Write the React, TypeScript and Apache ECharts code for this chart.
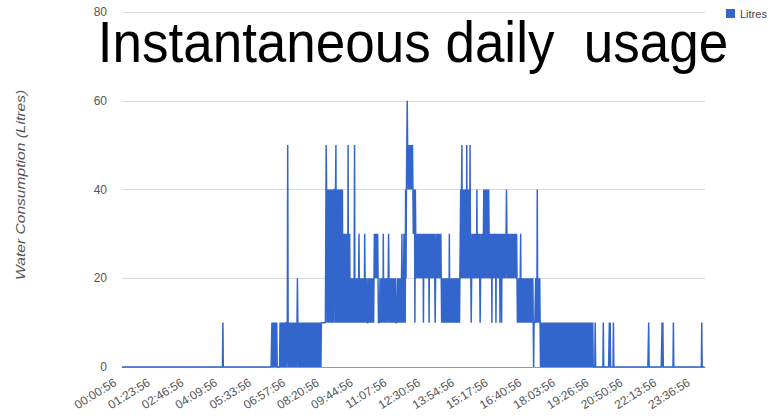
import React, { useEffect, useRef } from "react";
import * as echarts from "echarts";

const chartTitle = "Instantaneous daily  usage";
const yAxisTitle = "Water Consumption (Litres)";
const seriesName = "Litres";
const yAxisMax = 80;
const yAxisStep = 20;
const litresPerLevel = 10;

const xTickLabels = [
  "00:00:56", "01:23:56", "02:46:56", "04:09:56", "05:33:56", "06:57:56",
  "08:20:56", "09:44:56", "11:07:56", "12:30:56", "13:54:56", "15:17:56",
  "16:40:56", "18:03:56", "19:26:56", "20:50:56", "22:13:56", "23:36:56",
];

// One row per hour, six chunks of ten one-minute readings each.
// Each digit is the reading in tens of litres (1 = 10 L, 5 = 50 L ...).
const usage00to05 = [
  ["0000000000", "0000000000", "0000000000", "0000000000", "0000000000", "0000000000"],
  ["0000000000", "0000000000", "0000000000", "0000000000", "0000000000", "0000000000"],
  ["0000000000", "0000000000", "0000000000", "0000000000", "0000000000", "0000000000"],
  ["0000000000", "0000000000", "0000000000", "0000000000", "0000000000", "0000000000"],
  ["0000000001", "0000000000", "0000000000", "0000000000", "0000000000", "0000000000"],
  ["0000000000", "0000000000", "0000000000", "0000000000", "0000000000", "0000000000"],
];
const usage06to11 = [
  ["0000000000", "1010101010", "1010000000", "1010101010", "1010111015", "1010101010"],
  ["1010101010", "1012101010", "1010101010", "1010101010", "1010101010", "1010101010"],
  ["1010101010", "1011111111", "1111541414", "1414141414", "1414441451", "4141414141"],
  ["4141413131", "3131313151", "3131212122", "1212512121", "2121231212", "1212121213"],
  ["2121211121", "2121212121", "2123232323", "2321111212", "1212131212", "1212121232"],
  ["1212121212", "1212121111", "2121212121", "2312123131", "4245654545", "4545454543"],
];
const usage12to17 = [
  ["4341432323", "2323232323", "2323132323", "2323232313", "2323232323", "2321232323"],
  ["2323232321", "2121212121", "2121212131", "2121212121", "2121212121", "2121224245"],
  ["2424242424", "2524242425", "3212323232", "3232324232", "3232123232", "3234242424"],
  ["2424243232", "3231323232", "3231323232", "3231323132", "3232323234", "3232323232"],
  ["3232323232", "3232321212", "1212312121", "2121212121", "2121212121", "2121210111"],
  ["1212141212", "1210101010", "1010101010", "1010101010", "1010101010", "1010101010"],
];
const usage18to23 = [
  ["1010101010", "1010101010", "1010101010", "1010101010", "1010101010", "1010101010"],
  ["1010101010", "1010101010", "1010000010", "0000000000", "0000000010", "0000000000"],
  ["0001010000", "0001000000", "0000000000", "0000000000", "0000000000", "0000000000"],
  ["0000000000", "0000000000", "0000000000", "0000000000", "1000000000", "0000000000"],
  ["0000000000", "0001010000", "0000000000", "0000000000", "0100000000", "0000000000"],
  ["0000000000", "0000000000", "0000000000", "0000000000", "0000000000", "0100000000"],
];

const hourRows = [...usage00to05, ...usage06to11, ...usage12to17, ...usage18to23];
const minuteLitres: number[] = [];
hourRows.forEach((row) =>
  row.join("").split("").forEach((ch) => minuteLitres.push(Number(ch) * litresPerLevel))
);
const seriesData = minuteLitres.map((v, i) => [i, v]);

const toMinute = (label: string) => {
  const [h, m] = label.split(":").map(Number);
  return h * 60 + m;
};
const xTickMinutes = xTickLabels.map(toMinute);

const FONT = "'Liberation Sans', Arial, Helvetica, sans-serif";

export default function App() {
  const ref = useRef<HTMLDivElement>(null);
  useEffect(() => {
    if (!ref.current) return;
    const chart = echarts.init(ref.current, undefined, { renderer: "svg" });
    chart.setOption({
      animation: false,
      backgroundColor: "#ffffff",
      textStyle: { fontFamily: FONT },
      grid: { left: 122, right: 70, top: 12, bottom: 53, outerBoundsMode: "none" },
      legend: {
        data: [seriesName],
        left: 726,
        top: 8,
        padding: 0,
        itemWidth: 9,
        itemHeight: 9,
        icon: "rect",
        textStyle: { fontSize: 11, color: "#444", fontFamily: FONT },
      },
      xAxis: {
        type: "value",
        min: 0,
        max: minuteLitres.length - 1,
        axisLine: { show: true, onZero: true, lineStyle: { color: "#999", width: 1 } },
        axisTick: { show: false },
        splitLine: { show: false },
        axisLabel: {
          customValues: xTickMinutes,
          formatter: (v: number) => {
            const i = xTickMinutes.indexOf(v);
            return i >= 0 ? xTickLabels[i] : "";
          },
          rotate: 32,
          fontSize: 12,
          color: "#555",
          margin: 10,
          padding: [0, 8, 0, 0],
          fontFamily: FONT,
        },
      },
      yAxis: {
        type: "value",
        min: 0,
        max: yAxisMax,
        interval: yAxisStep,
        axisLine: { show: false },
        axisTick: { show: false },
        axisLabel: { fontSize: 12, color: "#555", margin: 15, fontFamily: FONT },
        splitLine: { lineStyle: { color: "#d9d9d9", width: 1 } },
      },
      series: [
        {
          name: seriesName,
          type: "line",
          data: seriesData,
          showSymbol: false,
          symbol: "none",
          lineStyle: { color: "#3366cc", width: 1.5 },
          itemStyle: { color: "#3366cc" },
          z: 3,
        },
      ],
      graphic: [
        {
          type: "text",
          x: 413,
          y: 42,
          scaleY: 1.07,
          z: 10,
          style: {
            text: chartTitle,
            fontSize: 53,
            fontFamily: FONT,
            fill: "#000",
            textAlign: "center",
            textVerticalAlign: "middle",
          },
        },
        {
          type: "text",
          x: 20,
          y: 185,
          rotation: Math.PI / 2,
          scaleX: 1.2,
          style: {
            text: yAxisTitle,
            fontSize: 13,
            fontStyle: "italic",
            fontFamily: FONT,
            fill: "#555",
            textAlign: "center",
            textVerticalAlign: "middle",
          },
        },
      ],
    });
    return () => chart.dispose();
  }, []);
  return (
    <div
      ref={ref}
      style={{ position: "fixed", left: 0, top: 0, width: 775, height: 420, background: "#fff" }}
    />
  );
}
